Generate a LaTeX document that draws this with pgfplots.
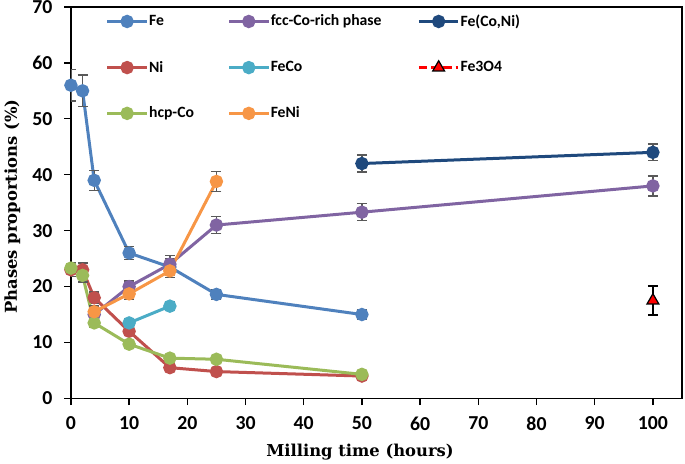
\documentclass[border=0pt]{standalone}
\usepackage{fontspec}
\setmainfont{Carlito}
\newfontfamily\serifb{DejaVu Serif}
\usepackage{pgfplots}
\usepackage{pgfplotstable}
\pgfplotsset{compat=1.18}

\definecolor{cFe}{RGB}{79,129,189}
\definecolor{cNi}{RGB}{192,80,77}
\definecolor{cHcp}{RGB}{155,187,89}
\definecolor{cFcc}{RGB}{128,100,162}
\definecolor{cFeCo}{RGB}{75,172,198}
\definecolor{cFeNi}{RGB}{247,150,70}
\definecolor{cFeCoNi}{RGB}{31,73,125}

\pgfplotstableread{
x y e
0 56 2.8
2 55 2.8
4 39 1.8
10 26 1.2
17 23.5 1.5
25 18.6 0.9
50 15 0.8
}\tFe
\pgfplotstableread{
x y e
0 23 1.2
2 23 1.2
4 18 1.0
10 12 0.8
17 5.5 0.5
25 4.8 0.4
50 4.0 0.4
}\tNi
\pgfplotstableread{
x y e
0 23.3 1.0
2 22 1.2
4 13.5 0.8
10 9.7 0.5
17 7.2 0.5
25 7.0 0.4
50 4.3 0.4
}\tHcp
\pgfplotstableread{
x y e
4 15 1.0
10 20 1.0
17 24 1.5
25 31 1.5
50 33.3 1.5
100 38 1.8
}\tFcc
\pgfplotstableread{
x y e
10 13.5 0.8
17 16.5 0.8
}\tFeCo
\pgfplotstableread{
x y e
4 15.5 1.0
10 18.7 1.0
17 22.8 1.2
25 38.8 1.8
}\tFeNi
\pgfplotstableread{
x y e
50 42 1.5
100 44 1.5
}\tFeCoNi
\pgfplotstableread{
x y e
100 17.5 2.6
}\tFeO

\begin{document}
\begin{tikzpicture}
\begin{axis}[
  scale only axis, width=448pt, height=287pt,
  xmin=0, xmax=105, ymin=0, ymax=70,
  xtick={0,10,...,100}, ytick={0,10,...,70},
  tick align=outside, tick pos=left,
  major tick length=5pt,
  axis line style={line width=1.1pt},
  every tick/.style={black, line width=1pt},
  /pgf/number format/assume math mode=true,
  tick label style={font=\bfseries\fontsize{14.5}{16}\selectfont},
  xticklabel style={yshift=-5pt},
  yticklabel style={xshift=-5pt},
  xlabel={\serifb\bfseries Milling time (hours)},
  ylabel={\serifb\bfseries Phases proportions (\%)},
  label style={font=\fontsize{12}{14}\selectfont},
  xlabel style={at={(axis description cs:0.473,0)}, anchor=center, yshift=-39pt},
  ylabel style={at={(axis description cs:0,0.49)}, anchor=center, yshift=43pt},
  every axis plot/.append style={line width=2.2pt, mark=*, mark size=3.8pt,
    error bars/y dir=both, error bars/y explicit,
    error bars/error bar style={line width=1pt, black!65},
    error bars/error mark options={rotate=90, mark size=3.7pt, line width=1pt, black!65}},
  legend columns=3,
  legend cell align=left,
  legend style={draw=none, fill=none, at={(rel axis cs:0.05,0.995)}, anchor=north west,
    font=\bfseries\fontsize{11.5}{13}\selectfont,
    nodes={inner xsep=0.5pt},
    row sep=20pt},
  legend image code/.code={\draw[mark repeat=2,mark phase=2]
    plot coordinates {(0pt,0pt) (14.5pt,0pt) (29pt,0pt)};},
]
\addplot[cFe, mark options={fill=cFe}] table[y error=e] {\tFe};
\addlegendentry{\makebox[57pt][l]{Fe}}
\addplot[cFcc, mark options={fill=cFcc}] table[y error=e] {\tFcc};
\addlegendentry{\makebox[107pt][l]{fcc-Co-rich phase}}
\addplot[cFeCoNi, mark options={fill=cFeCoNi}] table[y error=e] {\tFeCoNi};
\addlegendentry{Fe(Co,Ni)}
\addplot[cNi, mark options={fill=cNi}] table[y error=e] {\tNi};
\addlegendentry{Ni}
\addplot[cFeCo, mark options={fill=cFeCo}] table[y error=e] {\tFeCo};
\addlegendentry{FeCo}
\addplot[red, dash pattern=on 6pt off 3pt, line width=2pt, mark=triangle*, mark size=5pt,
  mark options={solid, fill=red, draw=black, line width=0.9pt},
  error bars/error bar style={black, solid, line width=1pt},
  error bars/error mark options={rotate=90, mark size=3.7pt, black, solid, line width=1pt}]
  table[y error=e] {\tFeO};
\addlegendentry{Fe3O4}
\addplot[cHcp, mark options={fill=cHcp}] table[y error=e] {\tHcp};
\addlegendentry{hcp-Co}
\addplot[cFeNi, mark options={fill=cFeNi}] table[y error=e] {\tFeNi};
\addlegendentry{FeNi}
\end{axis}
\pgfresetboundingbox
\path[use as bounding box] ([shift={(-52pt,-47.6pt)}]current axis.south west)
  rectangle ([shift={(2.2pt,5.1pt)}]current axis.north east);
\end{tikzpicture}
\end{document}
